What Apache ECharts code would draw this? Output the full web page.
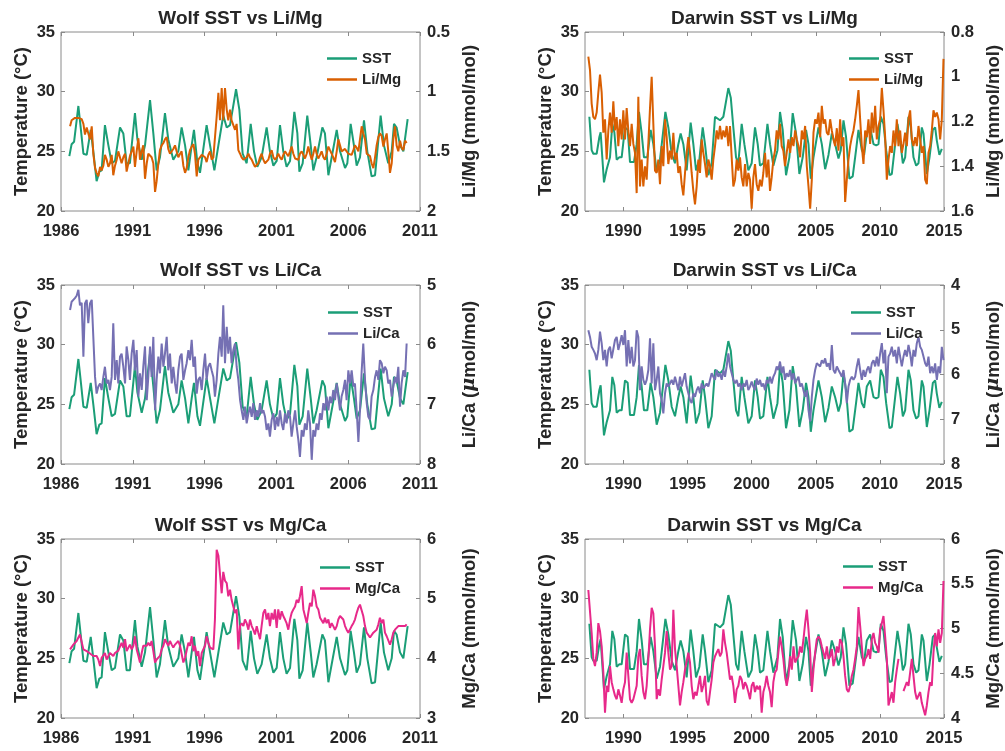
<!DOCTYPE html>
<html>
<head>
<meta charset="utf-8">
<title>Wolf and Darwin SST vs coral Li/Mg, Li/Ca and Mg/Ca</title>
<script src="https://cdn.jsdelivr.net/npm/echarts@6/dist/echarts.min.js"></script>
<style>
  html, body { margin: 0; padding: 0; background: #ffffff; }
  #chart { width: 1005px; height: 751px; }
</style>
</head>
<body>
<div id="chart"></div>
<script>
// ---------------- data ----------------

// Year tick labels of the two time axes
const wolfYearTicks = [1986, 1991, 1996, 2001, 2006, 2011];
const darwinYearTicks = [1990, 1995, 2000, 2005, 2010, 2015];

// Sea surface temperature (°C), [decimal year, value]
const wolfSst = [
  [1986.58, 24.6], [1986.74, 25.6], [1986.91, 25.8], [1987.21, 28.8], [1987.37, 27.0],
  [1987.56, 24.8], [1987.79, 24.7], [1988.07, 26.8], [1988.25, 25.0], [1988.48, 22.5],
  [1988.67, 23.3], [1988.83, 23.4], [1989.06, 27.2], [1989.30, 25.5], [1989.53, 24.0],
  [1989.76, 24.2], [1990.11, 27.0], [1990.34, 26.5], [1990.57, 24.0], [1990.80, 24.0],
  [1991.15, 28.2], [1991.32, 26.0], [1991.62, 24.3], [1991.85, 25.5], [1992.20, 29.3],
  [1992.43, 26.5], [1992.66, 23.4], [1992.89, 24.5], [1993.24, 28.2], [1993.47, 26.0],
  [1993.82, 24.3], [1994.17, 25.0], [1994.40, 27.0], [1994.64, 25.5], [1994.87, 23.4],
  [1995.10, 25.5], [1995.26, 26.8], [1995.50, 24.0], [1995.68, 23.2], [1996.14, 27.2],
  [1996.38, 25.5], [1996.68, 23.4], [1996.96, 25.5], [1997.30, 28.0], [1997.54, 27.0],
  [1997.77, 27.2], [1998.19, 30.2], [1998.42, 28.5], [1998.65, 24.8], [1998.93, 24.0],
  [1999.21, 27.3], [1999.44, 25.0], [1999.67, 23.7], [1999.97, 24.5], [2000.32, 27.0],
  [2000.55, 25.0], [2000.79, 23.8], [2001.02, 24.2], [2001.25, 27.2], [2001.48, 25.0],
  [2001.71, 23.7], [2001.95, 24.2], [2002.25, 28.3], [2002.46, 26.5], [2002.60, 23.3],
  [2002.83, 24.0], [2003.15, 28.0], [2003.39, 25.5], [2003.57, 23.4], [2003.80, 24.5],
  [2004.20, 27.0], [2004.38, 26.5], [2004.62, 23.0], [2004.85, 24.5], [2005.20, 26.8],
  [2005.43, 25.0], [2005.78, 23.6], [2005.94, 24.0], [2006.17, 27.3], [2006.40, 25.5],
  [2006.59, 23.8], [2006.82, 24.5], [2007.10, 27.6], [2007.33, 25.0], [2007.63, 22.9],
  [2007.87, 23.0], [2008.26, 28.0], [2008.49, 25.5], [2008.79, 24.0], [2009.03, 25.0],
  [2009.19, 27.3], [2009.37, 27.0], [2009.61, 25.5], [2009.84, 25.0], [2010.14, 27.7]
];

const darwinSst = [
  [1987.34, 27.9], [1987.52, 25.1], [1987.65, 24.8], [1987.91, 24.8], [1988.12, 26.2],
  [1988.22, 26.6], [1988.33, 24.8], [1988.48, 22.4], [1988.69, 23.5], [1988.82, 24.0],
  [1988.95, 24.5], [1989.13, 27.3], [1989.29, 26.6], [1989.47, 24.3], [1989.68, 24.5],
  [1989.86, 24.5], [1990.12, 27.0], [1990.33, 26.8], [1990.51, 24.1], [1990.82, 24.1],
  [1991.03, 25.6], [1991.21, 28.3], [1991.42, 26.5], [1991.60, 24.5], [1991.86, 24.5],
  [1992.12, 26.8], [1992.33, 25.6], [1992.59, 23.3], [1992.85, 24.3], [1993.27, 28.3],
  [1993.50, 27.0], [1993.76, 24.8], [1994.02, 24.0], [1994.28, 25.6], [1994.46, 26.5],
  [1994.67, 25.6], [1994.93, 23.4], [1995.24, 27.4], [1995.45, 25.6], [1995.66, 23.4],
  [1995.92, 24.3], [1996.18, 27.0], [1996.36, 25.6], [1996.62, 23.0], [1996.88, 24.0],
  [1997.14, 27.9], [1997.53, 27.6], [1997.79, 27.9], [1998.18, 30.3], [1998.37, 29.5],
  [1998.57, 27.0], [1998.78, 24.5], [1998.96, 24.0], [1999.22, 27.3], [1999.43, 25.6],
  [1999.74, 23.4], [2000.00, 24.0], [2000.26, 27.0], [2000.47, 25.6], [2000.65, 23.8],
  [2000.91, 24.0], [2001.23, 27.3], [2001.43, 25.6], [2001.69, 23.8], [2002.01, 25.1],
  [2002.21, 28.3], [2002.42, 26.8], [2002.68, 23.0], [2002.94, 24.5], [2003.20, 28.2],
  [2003.46, 26.5], [2003.72, 23.1], [2003.98, 24.5], [2004.24, 26.8], [2004.43, 25.6],
  [2004.61, 22.7], [2004.82, 24.5], [2005.21, 27.0], [2005.47, 25.6], [2005.73, 23.5],
  [2005.99, 24.7], [2006.25, 26.5], [2006.51, 25.6], [2006.77, 24.4], [2006.95, 25.1],
  [2007.16, 27.6], [2007.36, 26.2], [2007.62, 22.7], [2007.88, 22.9], [2008.14, 25.1],
  [2008.33, 26.8], [2008.59, 25.1], [2008.77, 24.7], [2008.98, 26.5], [2009.24, 27.0],
  [2009.50, 25.6], [2009.71, 25.5], [2009.89, 25.6], [2010.07, 27.9], [2010.28, 27.3],
  [2010.49, 25.1], [2010.75, 23.0], [2010.93, 23.1], [2011.19, 25.6], [2011.37, 27.3],
  [2011.58, 25.9], [2011.79, 24.0], [2011.97, 24.5], [2012.23, 27.9], [2012.41, 27.0],
  [2012.62, 24.5], [2012.83, 23.8], [2013.01, 24.0], [2013.27, 27.0], [2013.40, 26.5],
  [2013.66, 23.1], [2013.87, 24.5], [2014.13, 26.8], [2014.31, 27.0], [2014.44, 25.9],
  [2014.64, 24.7], [2014.83, 25.2]
];

// Wolf coral sample ages (decimal year), shared by the three Wolf ratios
const wolfYears = [
  1986.63, 1986.74, 1986.86, 1986.97, 1987.09, 1987.21, 1987.32, 1987.44, 1987.56, 1987.67,
  1987.79, 1987.90, 1988.02, 1988.14, 1988.25, 1988.37, 1988.48, 1988.60, 1988.72, 1988.83,
  1988.95, 1989.06, 1989.18, 1989.30, 1989.41, 1989.53, 1989.64, 1989.76, 1989.88, 1989.99,
  1990.11, 1990.22, 1990.34, 1990.46, 1990.57, 1990.69, 1990.80, 1990.92, 1991.04, 1991.15,
  1991.27, 1991.39, 1991.50, 1991.62, 1991.73, 1991.85, 1991.97, 1992.08, 1992.20, 1992.31,
  1992.43, 1992.55, 1992.66, 1992.78, 1992.89, 1993.01, 1993.13, 1993.24, 1993.36, 1993.47,
  1993.59, 1993.71, 1993.82, 1993.94, 1994.05, 1994.17, 1994.29, 1994.40, 1994.52, 1994.64,
  1994.75, 1994.87, 1994.98, 1995.10, 1995.22, 1995.33, 1995.45, 1995.56, 1995.68, 1995.80,
  1995.91, 1996.03, 1996.14, 1996.26, 1996.38, 1996.49, 1996.61, 1996.72, 1996.84, 1996.96,
  1997.07, 1997.19, 1997.30, 1997.42, 1997.54, 1997.65, 1997.77, 1997.88, 1998.00, 1998.12,
  1998.23, 1998.35, 1998.47, 1998.58, 1998.70, 1998.81, 1998.93, 1999.05, 1999.16, 1999.28,
  1999.39, 1999.51, 1999.63, 1999.74, 1999.86, 1999.97, 2000.09, 2000.21, 2000.32, 2000.44,
  2000.55, 2000.67, 2000.79, 2000.90, 2001.02, 2001.13, 2001.25, 2001.37, 2001.48, 2001.60,
  2001.71, 2001.83, 2001.95, 2002.06, 2002.18, 2002.30, 2002.41, 2002.53, 2002.64, 2002.76,
  2002.88, 2002.99, 2003.11, 2003.22, 2003.34, 2003.46, 2003.57, 2003.69, 2003.80, 2003.92,
  2004.04, 2004.15, 2004.27, 2004.38, 2004.50, 2004.62, 2004.73, 2004.85, 2004.96, 2005.08,
  2005.20, 2005.31, 2005.43, 2005.54, 2005.66, 2005.78, 2005.89, 2006.01, 2006.13, 2006.24,
  2006.36, 2006.47, 2006.59, 2006.71, 2006.82, 2006.94, 2007.05, 2007.17, 2007.29, 2007.40,
  2007.52, 2007.63, 2007.75, 2007.87, 2007.98, 2008.10, 2008.21, 2008.33, 2008.45, 2008.56,
  2008.68, 2008.79, 2008.91, 2009.03, 2009.14, 2009.26, 2009.37, 2009.49, 2009.61, 2009.72,
  2009.84, 2009.96, 2010.07
];

// Wolf Li/Mg (mmol/mol)
const wolfLiMg = [
  1.29, 1.24, 1.23, 1.22, 1.21, 1.22, 1.21, 1.23, 1.27, 1.36,
  1.30, 1.29, 1.40, 1.29, 1.52, 1.64, 1.68, 1.71, 1.63, 1.66,
  1.62, 1.53, 1.57, 1.63, 1.60, 1.53, 1.70, 1.62, 1.57, 1.50,
  1.49, 1.60, 1.55, 1.52, 1.67, 1.60, 1.54, 1.50, 1.46, 1.63,
  1.50, 1.39, 1.57, 1.50, 1.45, 1.73, 1.60, 1.52, 1.52, 1.55,
  1.60, 1.84, 1.75, 1.60, 1.49, 1.45, 1.43, 1.40, 1.38, 1.48,
  1.52, 1.52, 1.48, 1.45, 1.50, 1.55, 1.52, 1.50, 1.62, 1.68,
  1.64, 1.55, 1.49, 1.46, 1.44, 1.52, 1.71, 1.57, 1.55, 1.53,
  1.52, 1.55, 1.59, 1.53, 1.50, 1.57, 1.55, 1.54, 1.21, 1.01,
  1.24, 0.97, 1.24, 0.97, 1.15, 1.24, 1.15, 1.24, 1.24, 1.32,
  1.27, 1.49, 1.52, 1.55, 1.57, 1.57, 1.55, 1.52, 1.55, 1.57,
  1.60, 1.63, 1.62, 1.60, 1.55, 1.52, 1.57, 1.60, 1.59, 1.57,
  1.52, 1.49, 1.55, 1.57, 1.55, 1.52, 1.55, 1.57, 1.53, 1.50,
  1.52, 1.54, 1.50, 1.46, 1.52, 1.56, 1.57, 1.57, 1.52, 1.50,
  1.53, 1.56, 1.52, 1.46, 1.52, 1.57, 1.52, 1.46, 1.52, 1.56,
  1.53, 1.50, 1.55, 1.57, 1.52, 1.46, 1.49, 1.52, 1.55, 1.59,
  1.50, 1.40, 1.45, 1.50, 1.49, 1.48, 1.50, 1.52, 1.53, 1.53,
  1.49, 1.45, 1.47, 1.50, 1.40, 1.29, 1.35, 1.40, 1.52, 1.53,
  1.54, 1.60, 1.64, 1.55, 1.45, 1.38, 1.35, 1.37, 1.46, 1.40,
  1.35, 1.50, 1.68, 1.60, 1.40, 1.29, 1.45, 1.50, 1.41, 1.47,
  1.49, 1.41, 1.43
];

// Wolf Li/Ca (µmol/mol)
const wolfLiCa = [
  5.42, 5.28, 5.26, 5.22, 5.18, 5.08, 5.34, 5.30, 6.20, 5.31,
  5.25, 5.64, 5.31, 5.25, 5.87, 6.54, 6.82, 6.70, 6.65, 6.76,
  6.54, 6.37, 6.65, 6.59, 6.76, 6.54, 5.64, 6.59, 6.26, 6.65,
  6.20, 6.15, 6.37, 6.65, 6.03, 6.26, 6.59, 6.15, 5.92, 6.43,
  6.09, 6.87, 6.48, 6.76, 6.37, 6.03, 6.93, 6.54, 6.03, 6.54,
  5.87, 7.10, 6.59, 6.20, 6.48, 5.98, 6.37, 6.15, 5.87, 6.43,
  6.15, 6.65, 6.37, 6.65, 6.82, 6.43, 6.20, 6.15, 6.59, 6.43,
  6.31, 6.09, 6.26, 5.92, 6.37, 6.20, 6.82, 6.59, 6.54, 6.76,
  6.43, 6.15, 6.59, 6.37, 6.31, 6.43, 6.54, 6.87, 6.59, 6.15,
  5.87, 6.20, 5.34, 6.31, 5.70, 6.15, 5.87, 6.31, 6.09, 5.98,
  6.37, 6.59, 6.93, 7.10, 7.26, 7.04, 7.32, 7.15, 7.04, 7.21,
  6.98, 7.26, 7.10, 7.21, 6.98, 7.15, 7.10, 7.21, 7.43, 7.32,
  7.54, 7.26, 7.15, 7.43, 7.21, 7.37, 7.10, 7.32, 7.43, 7.15,
  7.32, 7.10, 7.21, 7.54, 7.32, 7.10, 7.37, 7.60, 7.88, 7.43,
  7.54, 7.32, 7.43, 7.10, 7.32, 7.93, 7.43, 7.54, 7.32, 7.43,
  7.15, 7.26, 6.98, 7.10, 6.87, 7.10, 6.87, 6.98, 6.76, 6.93,
  6.65, 6.87, 7.10, 6.87, 6.76, 6.59, 6.93, 6.43, 6.65, 6.43,
  6.70, 6.65, 7.10, 7.63, 7.10, 6.43, 5.98, 6.59, 6.98, 7.21,
  7.26, 6.87, 6.76, 6.54, 6.43, 6.59, 6.26, 6.31, 6.48, 6.37,
  6.43, 6.65, 6.59, 6.87, 6.70, 6.54, 6.65, 6.37, 7.04, 6.65,
  6.43, 6.54, 5.98
];

// Wolf Mg/Ca (mmol/mol)
const wolfMgCa = [
  4.15, 4.18, 4.23, 4.26, 4.29, 4.32, 4.40, 4.37, 4.15, 4.13,
  4.12, 4.09, 4.08, 4.07, 4.04, 4.07, 4.04, 3.98, 3.87, 4.01,
  4.04, 4.09, 3.98, 4.04, 4.09, 4.07, 4.04, 4.09, 4.12, 4.13,
  4.15, 4.26, 4.18, 4.32, 4.12, 4.09, 4.23, 4.15, 4.21, 4.37,
  4.15, 4.04, 3.93, 4.09, 4.21, 4.18, 4.21, 4.26, 4.21, 4.29,
  4.12, 3.93, 3.98, 4.01, 4.04, 4.15, 4.21, 4.32, 4.26, 4.21,
  4.29, 4.23, 4.18, 4.23, 4.26, 4.29, 4.21, 4.18, 3.93, 4.01,
  4.04, 4.26, 4.21, 4.37, 4.12, 4.21, 4.04, 4.12, 3.87, 4.09,
  4.15, 4.21, 4.37, 4.26, 4.18, 4.16, 4.15, 4.65, 5.82, 5.72,
  5.71, 5.09, 5.45, 5.30, 5.26, 5.04, 5.15, 4.98, 4.87, 4.76,
  4.82, 4.15, 4.54, 4.59, 4.54, 4.65, 4.59, 4.48, 4.65, 4.54,
  4.48, 4.40, 4.54, 4.43, 4.32, 4.54, 4.76, 4.82, 4.65, 4.76,
  4.54, 4.76, 4.65, 4.82, 4.51, 4.82, 4.65, 4.79, 4.71, 4.65,
  4.59, 4.48, 4.65, 4.76, 4.82, 4.87, 4.98, 4.93, 5.04, 5.21,
  4.82, 4.71, 4.59, 4.76, 4.93, 4.87, 5.15, 5.04, 4.87, 4.82,
  4.68, 4.71, 4.59, 4.68, 4.59, 4.65, 4.51, 4.59, 4.54, 4.48,
  4.54, 4.65, 4.71, 4.73, 4.65, 4.54, 4.48, 4.43, 4.46, 4.54,
  4.59, 4.65, 4.76, 4.85, 4.90, 4.87, 4.71, 4.54, 4.43, 4.40,
  4.35, 4.37, 4.43, 4.40, 4.48, 4.57, 4.68, 4.59, 4.65, 4.43,
  4.37, 4.40, 4.23, 4.32, 4.43, 4.48, 4.51, 4.54, 4.51, 4.54,
  4.57, 4.54, 4.57
];

// Darwin coral sample ages (decimal year), shared by the three Darwin ratios
const darwinYears = [
  1987.26, 1987.39, 1987.52, 1987.65, 1987.78, 1987.91, 1988.04, 1988.17, 1988.30, 1988.43,
  1988.56, 1988.69, 1988.82, 1988.95, 1989.08, 1989.21, 1989.34, 1989.47, 1989.60, 1989.73,
  1989.86, 1989.99, 1990.12, 1990.25, 1990.38, 1990.51, 1990.64, 1990.77, 1990.90, 1991.03,
  1991.16, 1991.29, 1991.42, 1991.55, 1991.68, 1991.81, 1991.94, 1992.07, 1992.20, 1992.33,
  1992.46, 1992.59, 1992.72, 1992.85, 1992.98, 1993.11, 1993.24, 1993.37, 1993.50, 1993.63,
  1993.76, 1993.89, 1994.02, 1994.15, 1994.28, 1994.41, 1994.54, 1994.67, 1994.80, 1994.93,
  1995.06, 1995.19, 1995.32, 1995.45, 1995.58, 1995.71, 1995.84, 1995.97, 1996.10, 1996.23,
  1996.36, 1996.49, 1996.62, 1996.75, 1996.88, 1997.01, 1997.14, 1997.27, 1997.40, 1997.53,
  1997.66, 1997.79, 1997.92, 1998.05, 1998.18, 1998.31, 1998.44, 1998.57, 1998.70, 1998.83,
  1998.96, 1999.09, 1999.22, 1999.35, 1999.48, 1999.61, 1999.74, 1999.87, 2000.00, 2000.13,
  2000.26, 2000.39, 2000.52, 2000.65, 2000.78, 2000.91, 2001.04, 2001.17, 2001.30, 2001.43,
  2001.56, 2001.69, 2001.82, 2001.95, 2002.08, 2002.21, 2002.34, 2002.47, 2002.60, 2002.73,
  2002.87, 2003.00, 2003.13, 2003.26, 2003.39, 2003.52, 2003.65, 2003.78, 2003.91, 2004.04,
  2004.17, 2004.30, 2004.43, 2004.56, 2004.69, 2004.82, 2004.95, 2005.08, 2005.21, 2005.34,
  2005.47, 2005.60, 2005.73, 2005.86, 2005.99, 2006.12, 2006.25, 2006.38, 2006.51, 2006.64,
  2006.77, 2006.90, 2007.03, 2007.16, 2007.29, 2007.42, 2007.55, 2007.68, 2007.81, 2007.94,
  2008.07, 2008.20, 2008.33, 2008.46, 2008.59, 2008.72, 2008.85, 2008.98, 2009.11, 2009.24,
  2009.37, 2009.50, 2009.63, 2009.76, 2009.89, 2010.02, 2010.15, 2010.28, 2010.41, 2010.54,
  2010.67, 2010.80, 2010.93, 2011.06, 2011.19, 2011.32, 2011.45, 2011.58, 2011.71, 2011.84,
  2011.97, 2012.10, 2012.23, 2012.36, 2012.49, 2012.62, 2012.75, 2012.88, 2013.01, 2013.14,
  2013.27, 2013.40, 2013.53, 2013.66, 2013.79, 2013.92, 2014.05, 2014.18, 2014.31, 2014.44,
  2014.57, 2014.70, 2014.83, 2014.96
];

// Darwin Li/Mg (mmol/mol)
const darwinLiMg = [
  0.91, 0.97, 1.12, 1.18, 1.19, 1.16, 1.07, 0.99, 1.07, 1.25,
  1.19, 1.37, 1.24, 1.16, 1.25, 1.11, 1.24, 1.18, 1.31, 1.19,
  1.28, 1.15, 1.28, 1.14, 1.24, 1.31, 1.21, 1.30, 1.34, 1.52,
  1.09, 1.49, 1.37, 1.49, 1.40, 1.46, 1.30, 1.14, 1.00, 1.21,
  1.42, 1.43, 1.37, 1.48, 1.31, 1.40, 1.19, 1.27, 1.39, 1.33,
  1.37, 1.25, 1.37, 1.34, 1.43, 1.40, 1.48, 1.53, 1.43, 1.34,
  1.27, 1.34, 1.43, 1.51, 1.57, 1.49, 1.37, 1.43, 1.28, 1.34,
  1.39, 1.45, 1.37, 1.40, 1.46, 1.37, 1.31, 1.24, 1.28, 1.22,
  1.28, 1.24, 1.27, 1.22, 1.31, 1.22, 1.36, 1.49, 1.46, 1.37,
  1.42, 1.36, 1.45, 1.49, 1.39, 1.49, 1.43, 1.46, 1.59, 1.45,
  1.39, 1.48, 1.51, 1.46, 1.49, 1.43, 1.34, 1.45, 1.37, 1.51,
  1.45, 1.37, 1.33, 1.24, 1.28, 1.21, 1.31, 1.33, 1.40, 1.34,
  1.28, 1.34, 1.27, 1.31, 1.24, 1.28, 1.31, 1.36, 1.24, 1.28,
  1.22, 1.40, 1.49, 1.59, 1.46, 1.25, 1.19, 1.21, 1.16, 1.27,
  1.13, 1.21, 1.19, 1.25, 1.26, 1.19, 1.24, 1.28, 1.31, 1.23,
  1.33, 1.19, 1.31, 1.27, 1.56, 1.46, 1.37, 1.31, 1.27, 1.24,
  1.19, 1.13, 1.06, 1.19, 1.31, 1.39, 1.24, 1.27, 1.19, 1.30,
  1.16, 1.25, 1.13, 1.28, 1.22, 1.19, 1.05, 1.15, 1.27, 1.46,
  1.37, 1.31, 1.34, 1.24, 1.31, 1.19, 1.31, 1.24, 1.34, 1.30,
  1.25, 1.31, 1.19, 1.15, 1.28, 1.31, 1.27, 1.31, 1.22, 1.28,
  1.34, 1.31, 1.46, 1.48, 1.34, 1.31, 1.24, 1.15, 1.18, 1.16,
  1.19, 1.28, 1.19, 0.92
];

// Darwin Li/Ca (µmol/mol)
const darwinLiCa = [
  5.01, 5.16, 5.38, 5.45, 5.53, 5.68, 5.45, 5.04, 5.30, 5.68,
  5.45, 5.82, 5.45, 5.38, 5.64, 5.60, 5.23, 5.16, 5.45, 5.30,
  5.12, 5.34, 5.01, 5.82, 5.23, 5.75, 5.38, 5.82, 5.68, 5.01,
  5.16, 6.35, 5.82, 6.12, 6.23, 6.12, 5.90, 5.19, 6.20, 5.30,
  6.35, 6.12, 5.82, 6.42, 6.57, 6.87, 6.42, 6.20, 6.27, 6.20,
  6.12, 6.23, 6.05, 6.20, 6.35, 6.05, 6.27, 6.12, 5.97, 6.27,
  6.42, 6.57, 6.64, 6.42, 6.50, 6.35, 6.27, 6.42, 6.20, 6.31,
  6.35, 6.20, 6.27, 6.12, 5.97, 6.05, 6.12, 5.90, 6.05, 5.97,
  6.12, 5.90, 6.05, 5.82, 5.53, 5.82, 5.97, 6.12, 6.20, 6.12,
  6.27, 6.20, 6.35, 6.20, 6.27, 6.12, 6.35, 6.27, 6.16, 6.27,
  6.35, 6.09, 6.23, 6.12, 6.27, 6.20, 6.35, 6.12, 6.20, 6.05,
  6.20, 6.05, 5.97, 5.82, 5.90, 5.71, 5.97, 5.82, 6.12, 5.97,
  6.05, 5.90, 6.12, 5.97, 6.20, 6.12, 6.05, 6.27, 6.20, 6.35,
  6.50, 6.35, 6.79, 7.05, 6.50, 6.12, 5.90, 5.75, 5.71, 5.82,
  5.68, 5.75, 5.64, 5.82, 5.75, 5.90, 5.34, 5.90, 5.97, 5.82,
  5.90, 5.97, 6.05, 5.90, 6.20, 6.64, 6.27, 6.12, 6.05, 6.12,
  6.05, 5.82, 5.64, 5.90, 6.12, 5.90, 6.05, 5.90, 5.82, 5.97,
  5.75, 5.68, 5.82, 5.60, 5.82, 5.53, 5.30, 5.75, 5.45, 6.42,
  5.60, 5.53, 5.38, 5.60, 5.45, 5.75, 5.38, 5.60, 5.82, 5.60,
  5.45, 5.60, 5.34, 5.53, 5.82, 5.45, 5.60, 5.30, 5.16, 5.38,
  5.45, 5.60, 5.75, 5.82, 5.60, 5.97, 5.82, 5.97, 5.75, 6.12,
  5.82, 5.97, 5.38, 5.68
];

// Darwin Mg/Ca (mmol/mol); null marks missing samples
const darwinMgCa = [
  5.43, 5.41, 4.95, 4.66, 4.58, 4.73, 5.06, 4.97, 4.80, 4.51,
  4.06, 4.36, 4.29, 4.58, 4.40, 4.32, 4.25, 4.21, 4.32, 4.25,
  4.17, 4.32, 4.40, 4.73, 4.47, 4.21, 4.17, 4.21, 4.19, 4.36,
  4.69, 4.77, 4.47, 4.29, 4.21, 4.36, 4.66, 4.99, 5.23, 5.17,
  4.80, 4.21, 4.32, 4.25, 4.43, 4.58, 4.73, 4.97, 4.73, 4.54,
  4.58, 5.21, 4.77, 4.58, 4.36, 4.14, 4.29, 4.40, 4.54, 4.54,
  4.73, 4.62, 4.36, 4.21, 4.29, 4.25, 4.36, 4.47, 4.29, 4.36,
  4.47, 4.19, 4.14, 4.29, 4.43, 4.62, 4.69, 4.73, 4.77, 4.69,
  4.73, 4.99, 4.84, 4.73, 4.58, 4.43, 4.47, 4.36, 4.17, 4.32,
  4.36, 4.47, 4.43, 4.32, 4.40, 4.36, 4.29, 4.21, 4.36, 4.40,
  4.29, 4.36, 4.32, 4.36, 4.06, 4.29, 4.36, 4.47, 4.36, 4.29,
  4.12, 4.40, 4.51, 4.54, 4.73, 4.91, 4.80, 4.66, 4.47, 4.36,
  4.47, 4.69, 4.54, 4.80, 4.62, 4.66, 4.69, 4.80, 4.73, 4.88,
  5.06, 5.21, 4.99, 4.73, 4.29, 4.54, 4.73, 4.88, 4.91, 4.88,
  4.80, 4.73, 4.66, 4.80, 4.66, 4.69, 4.77, 4.58, 4.66, 4.80,
  4.73, 4.88, 4.84, 4.69, 4.47, 4.32, 4.29, 4.36, 4.47, 4.54,
  4.66, 4.80, 5.24, 5.03, 4.80, 4.58, 4.66, 4.69, 4.77, 4.66,
  4.88, 4.95, 4.84, 4.80, 4.73, 4.99, 5.06, 5.14, 4.91, 4.66,
  4.14, 4.21, 4.29, 4.17, 4.40, 4.54, 4.66, null, null, 4.30,
  4.29, 4.40, 4.36, 4.51, 4.66, 4.47, 4.29, 4.21, 4.19, 4.29,
  4.17, 4.10, 4.03, 4.14, 4.29, 4.40, 4.36, 4.73, 4.95, 4.80,
  4.99, 4.84, 4.95, 5.53
];

// ---------------- panels ----------------
const COLORS = { sst: '#1b9e77', liMg: '#d95f02', liCa: '#7570b3', mgCa: '#e7298a' };

const panels = [
  { title: 'Wolf SST vs Li/Mg', col: 0, row: 0, sst: wolfSst, years: wolfYears, ratio: wolfLiMg,
    ratioName: 'Li/Mg', color: COLORS.liMg, axisName: 'Li/Mg (mmol/mol)',
    rMin: 0.5, rMax: 2, rStep: 0.5, inverse: true, xMin: 1986, xMax: 2011, xTicks: wolfYearTicks },
  { title: 'Darwin SST vs Li/Mg', col: 1, row: 0, sst: darwinSst, years: darwinYears, ratio: darwinLiMg,
    ratioName: 'Li/Mg', color: COLORS.liMg, axisName: 'Li/Mg (mmol/mol)',
    rMin: 0.8, rMax: 1.6, rStep: 0.2, inverse: true, xMin: 1987, xMax: 2015, xTicks: darwinYearTicks },
  { title: 'Wolf SST vs Li/Ca', col: 0, row: 1, sst: wolfSst, years: wolfYears, ratio: wolfLiCa,
    ratioName: 'Li/Ca', color: COLORS.liCa, axisName: '{t|Li/Ca (}{m|μ}{t|mol/mol)}',
    rMin: 5, rMax: 8, rStep: 1, inverse: true, xMin: 1986, xMax: 2011, xTicks: wolfYearTicks },
  { title: 'Darwin SST vs Li/Ca', col: 1, row: 1, sst: darwinSst, years: darwinYears, ratio: darwinLiCa,
    ratioName: 'Li/Ca', color: COLORS.liCa, axisName: '{t|Li/Ca (}{m|μ}{t|mol/mol)}',
    rMin: 4, rMax: 8, rStep: 1, inverse: true, xMin: 1987, xMax: 2015, xTicks: darwinYearTicks },
  { title: 'Wolf SST vs Mg/Ca', col: 0, row: 2, sst: wolfSst, years: wolfYears, ratio: wolfMgCa,
    ratioName: 'Mg/Ca', color: COLORS.mgCa, axisName: 'Mg/Ca (mmol/mol)',
    rMin: 3, rMax: 6, rStep: 1, inverse: false, xMin: 1986, xMax: 2011, xTicks: wolfYearTicks },
  { title: 'Darwin SST vs Mg/Ca', col: 1, row: 2, sst: darwinSst, years: darwinYears, ratio: darwinMgCa,
    ratioName: 'Mg/Ca', color: COLORS.mgCa, axisName: 'Mg/Ca (mmol/mol)',
    rMin: 4, rMax: 6, rStep: 0.5, inverse: false, xMin: 1987, xMax: 2015, xTicks: darwinYearTicks }
];

// ---------------- layout & style ----------------
const FONT = '"Liberation Sans", Arial, Helvetica, sans-serif';
const INK = '#262626';
const FRAME = '#8a8a8a';
const COL_LEFT = [61, 585];
const ROW_TOP = [32, 285, 539];
const TITLE_Y = [19, 271, 526];
const PLOT_W = 359;
const PLOT_H = 179;
const LEGEND_POS = [[327, 51], [849, 51], [328, 305], [851, 305], [320, 560], [843, 559]];

const tickLabel = { color: INK, fontSize: 16.5, fontWeight: 'bold', fontFamily: FONT };
const nameStyle = {
  color: INK, fontSize: 18.5, fontWeight: 'bold', fontFamily: FONT,
  rich: {
    t: { color: INK, fontSize: 18.5, fontWeight: 'bold', fontFamily: FONT },
    m: { color: INK, fontSize: 19, fontStyle: 'italic', fontFamily: '"DejaVu Serif", serif' }
  }
};
// plain year numbers, no thousands separator
const yearLabel = (v) => String(Math.round(v));

const grid = [], xAxis = [], yAxis = [], series = [], legend = [], graphic = [];

panels.forEach((p, i) => {
  const left = COL_LEFT[p.col];
  const top = ROW_TOP[p.row];

  grid.push({ left, top, width: PLOT_W, height: PLOT_H, show: true,
    borderColor: FRAME, borderWidth: 1, backgroundColor: 'transparent' });

  const xCommon = { gridIndex: i, type: 'value', min: p.xMin, max: p.xMax,
    splitLine: { show: false }, axisLine: { show: false } };
  xAxis.push(Object.assign({}, xCommon, {
    position: 'bottom',
    axisTick: { inside: true, length: 4, lineStyle: { color: FRAME }, customValues: p.xTicks },
    axisLabel: Object.assign({ customValues: p.xTicks, margin: 12, formatter: yearLabel }, tickLabel)
  }));
  xAxis.push(Object.assign({}, xCommon, {
    position: 'top',
    axisTick: { inside: true, length: 4, lineStyle: { color: FRAME }, customValues: p.xTicks },
    axisLabel: { show: false }
  }));

  yAxis.push({
    gridIndex: i, type: 'value', position: 'left', min: 20, max: 35, interval: 5,
    name: 'Temperature (°C)', nameLocation: 'middle', nameRotate: 90, nameGap: 30,
    nameTextStyle: nameStyle,
    splitLine: { show: false }, axisLine: { show: false },
    axisTick: { inside: true, length: 4, lineStyle: { color: FRAME } },
    axisLabel: Object.assign({ margin: 6 }, tickLabel)
  });
  yAxis.push({
    gridIndex: i, type: 'value', position: 'right', min: p.rMin, max: p.rMax, interval: p.rStep,
    inverse: p.inverse,
    name: p.axisName, nameLocation: 'middle', nameRotate: 90, nameGap: 40,
    nameTextStyle: nameStyle,
    splitLine: { show: false }, axisLine: { show: false },
    axisTick: { inside: true, length: 4, lineStyle: { color: FRAME } },
    axisLabel: Object.assign({ margin: 7 }, tickLabel)
  });

  series.push({
    type: 'line', name: 'SST', xAxisIndex: 2 * i, yAxisIndex: 2 * i,
    data: p.sst, showSymbol: false, symbol: 'none', color: COLORS.sst,
    lineStyle: { width: 2, color: COLORS.sst }, z: 2
  });
  series.push({
    type: 'line', name: p.ratioName, xAxisIndex: 2 * i, yAxisIndex: 2 * i + 1,
    data: p.years.map((yr, k) => [yr, p.ratio[k] == null ? '-' : p.ratio[k]]),
    showSymbol: false, symbol: 'none', color: p.color, connectNulls: false,
    lineStyle: { width: 2, color: p.color }, z: 3
  });

  legend.push({
    left: LEGEND_POS[i][0], top: LEGEND_POS[i][1], orient: 'vertical',
    data: ['SST', p.ratioName], icon: 'rect', itemWidth: 30, itemHeight: 2.5, itemGap: 6,
    selectedMode: false, padding: 0,
    textStyle: { color: INK, fontSize: 15, fontWeight: 'bold', fontFamily: FONT }
  });

  graphic.push({
    type: 'text', x: left + PLOT_W / 2, y: TITLE_Y[p.row],
    style: { text: p.title, textAlign: 'center', textVerticalAlign: 'middle',
      fill: INK, fontSize: 19, fontWeight: 'bold', fontFamily: FONT }
  });
});

const chart = echarts.init(document.getElementById('chart'), null, { renderer: 'canvas' });
chart.setOption({
  animation: false,
  backgroundColor: '#ffffff',
  grid, xAxis, yAxis, series, legend, graphic
});
</script>
</body>
</html>
